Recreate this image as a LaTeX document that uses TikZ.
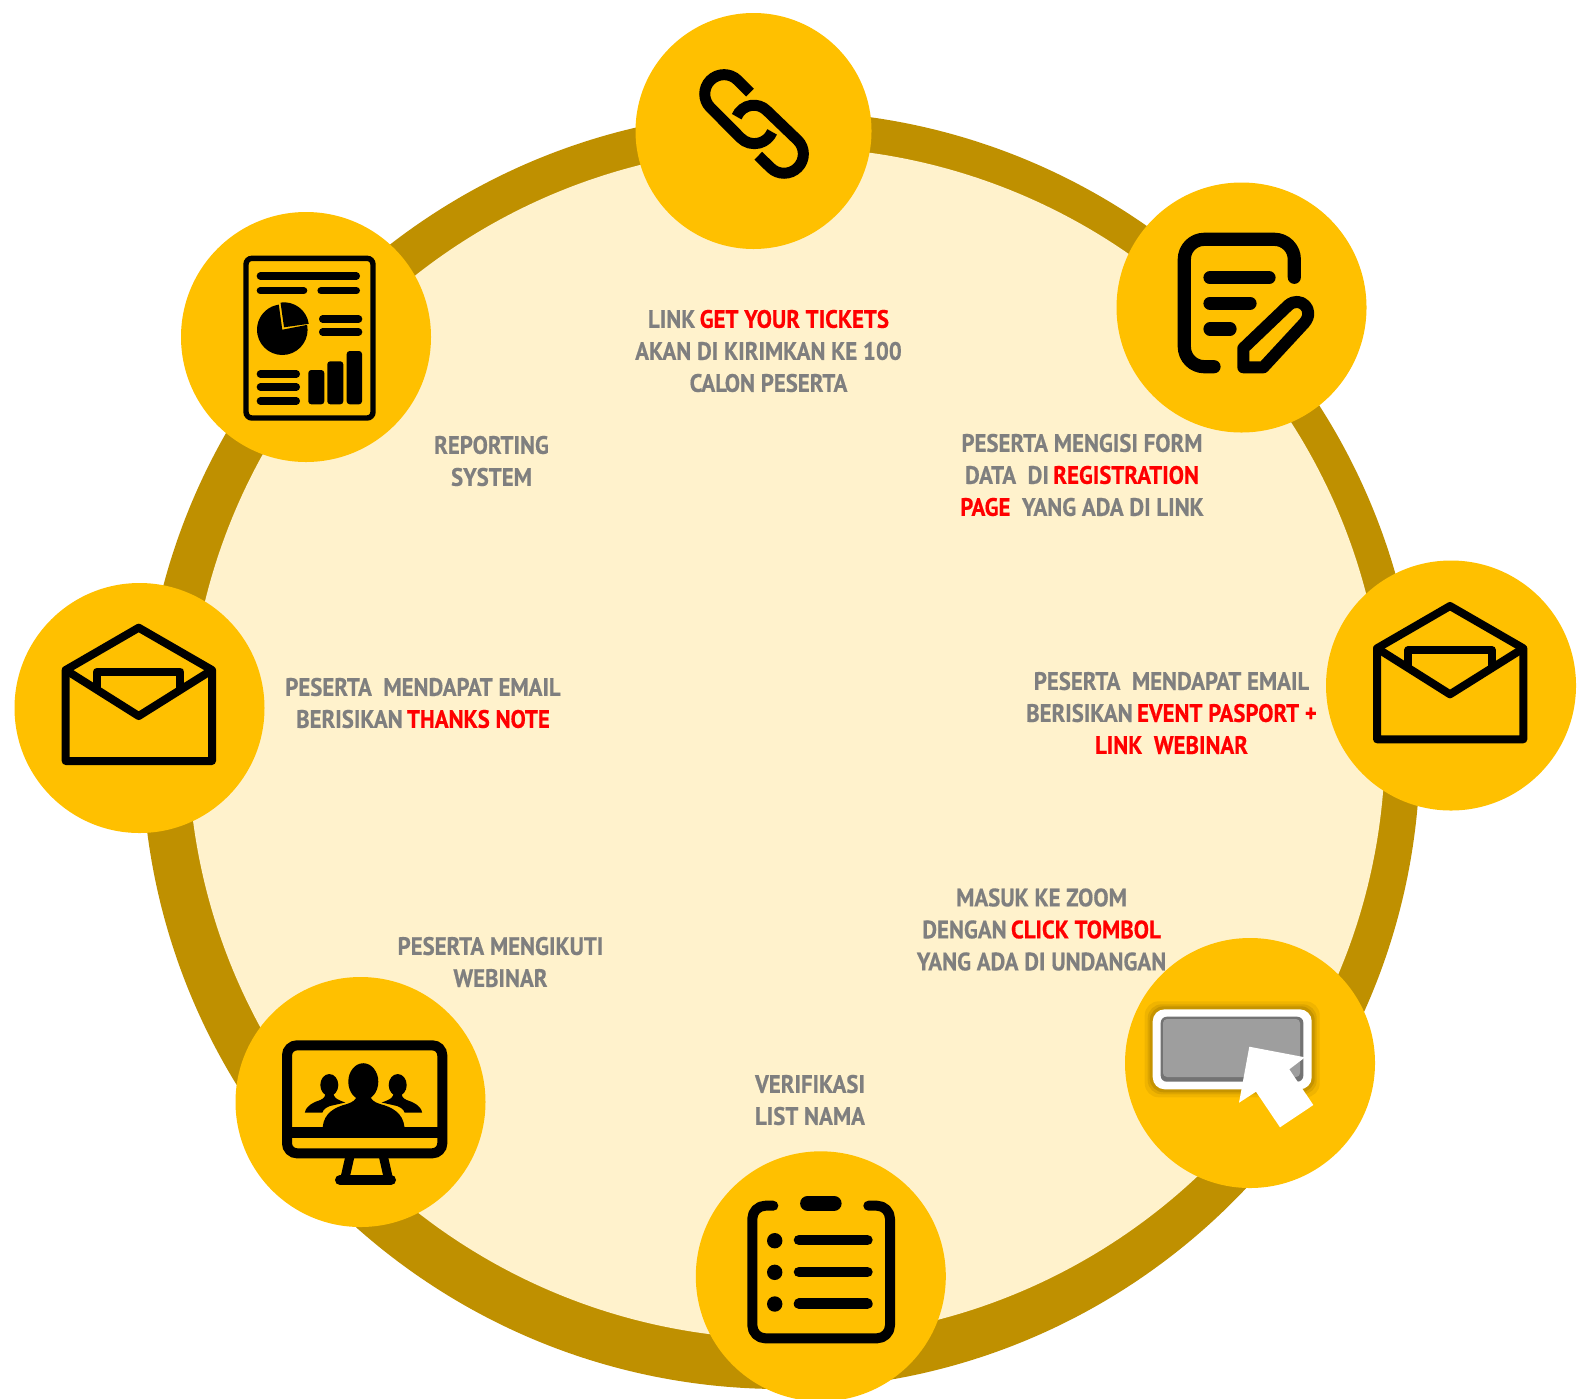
\documentclass[tikz,border=0pt]{standalone}
\usepackage{fontspec}
\setmainfont[FakeStretch=0.905,BoldFeatures={FakeBold=0.5}]{PT Sans}
\definecolor{hubc}{HTML}{FFC000}
\definecolor{ringc}{HTML}{BF9000}
\definecolor{creamc}{HTML}{FFF2CC}
\definecolor{greyt}{HTML}{7F7F7F}
\definecolor{redt}{HTML}{FF0000}
\newcommand{\rd}[1]{\textcolor{redt}{#1}}
\newcommand{\gs}{\hspace{2.2pt}}
\tikzset{
  hub/.style={circle,fill=hubc,draw=none,inner sep=0pt,minimum size=125pt},
  lab/.style={align=center,text=greyt,font=\fontsize{12.6}{16}\selectfont\bfseries,inner sep=0pt},
  ico/.style={draw=black,line width=#1,line cap=round,line join=round},
  envpic/.pic={
    \draw[draw=black,line width=4pt,line join=round] (-73,-26.7) -- (0,-69) -- (73.3,-26.7) -- (73.3,64.3) -- (-73,64.3) -- cycle;
    \draw[draw=black,line width=4pt,line join=round] (-73,-26.7) -- (0,19.3) -- (73.3,-26.7);
    \draw[draw=black,line width=4pt,line join=round] (-41.7,-6) -- (-41.7,-25) -- (41.7,-25) -- (41.7,-6);
  }
}
\begin{document}
\begin{tikzpicture}[x=0.5pt,y=-0.5pt]
\useasboundingbox (0,0) rectangle (1593,1398);
% ring and disc
\fill[ringc] (781,750) circle (639);
\fill[creamc] (786.5,743) ellipse (598.5 and 596);
% hubs
\node[hub,minimum size=118pt] (link) at (753.5,131) {};
\node[hub] (form) at (1241.5,307.5) {};
\node[hub] (mailr) at (1451,685.5) {};
\node[hub] (click) at (1250,1063) {};
\node[hub] (clip) at (820.8,1276.3) {};
\node[hub] (mon) at (360.5,1102) {};
\node[hub] (maill) at (139.5,708) {};
\node[hub] (rep) at (306,337) {};
% link icon
\draw[draw=black,line width=5.5pt,line cap=butt] (750,92.7) -- (737.7,80.3) arc (-45:-225:19.3) -- (740.7,138) arc (135:23:19.3);
\draw[draw=black,line width=5.5pt,line cap=butt] (736.7,116.7) arc (202:315:18.4) -- (797.7,140.3) arc (-45:135:19.3) -- (758.3,155.7);
% form icon
\draw[ico=6.6pt,rounded corners=10pt] (1214,366.7) -- (1184.3,366.7) -- (1184.3,239.3) -- (1294.3,239.3) -- (1294.3,277.3);
\draw[ico=6.6pt] (1210,277.7) -- (1269,277.7) (1210,303.3) -- (1250,303.3) (1210,329) -- (1230,329);
\draw[ico=6pt] (1243.3,367.3) -- (1243.3,348.3) -- (1288.3,305.3) .. controls (1300,295) and (1316,310) .. (1304,323.3) -- (1263.3,367.3) -- cycle;
% envelopes
\pic at (1450,675) {envpic};
\pic at (138.7,696.7) {envpic};
% click icon
\foreach \e/\o in {8/0.06,5/0.08,3/0.1}{
  \fill[black,opacity=\o,rounded corners=7pt] (1152.7-\e,1009.3-\e) rectangle (1311.7+\e,1089.3+\e);
}
\fill[white,rounded corners=6pt] (1152.7,1009.3) rectangle (1311.7,1089.3);
\fill[black!55,rounded corners=3pt] (1160.7,1016.7) rectangle (1303.3,1081.7);
\fill[black!38,rounded corners=2pt] (1163,1019) rectangle (1300,1077);
\fill[white] (1249.3,1046.7) -- (1305,1057.3) -- (1289.3,1069.3) -- (1313.3,1105) -- (1280,1127.3) -- (1256,1091.7) -- (1239,1102.7) -- cycle;
% clipboard icon
\draw[ico=5pt,rounded corners=6.5pt] (773.3,1205.7) -- (752.3,1205.7) -- (752.3,1338.3) -- (890,1338.3) -- (890,1205.7) -- (868.3,1205.7);
\draw[ico=7.6pt] (807.7,1203.3) -- (834,1203.3);
\foreach \y in {1240.7,1272.3,1304}{ \fill[black] (774.7,\y) circle (7.7); }
\draw[ico=5.3pt] (799,1240) -- (867.4,1240) (799,1272) -- (867.4,1272) (799,1303.7) -- (867.4,1303.7);
% report icon
\draw[draw=black,line width=2.7pt,rounded corners=3pt] (246,258.3) rectangle (373,418);
\draw[ico=3.6pt] (260.3,276) -- (356.4,276) (260.3,290.7) -- (303.7,290.7) (321,290.7) -- (356.4,290.7)
  (322.6,319) -- (358.7,319) (322.6,332) -- (358.7,332)
  (260.3,374) -- (296.4,374) (260.3,387) -- (296.4,387) (260.3,401) -- (296.4,401);
\fill[black,rounded corners=1.5pt] (308.3,370) rectangle (324.3,404.3);
\fill[black,rounded corners=1.5pt] (327.3,361.3) rectangle (343.3,404.3);
\fill[black,rounded corners=1.5pt] (346.7,351) rectangle (362,404.3);
\fill[black] (282.3,329.7) -- ++(-11:25.3) arc (-11:262:25.3) -- cycle;
\fill[black] (284,327.3) -- ++(-98:25) arc (-98:-8:25) -- cycle;
% monitor icon
\draw[draw=black,line width=5pt,rounded corners=5pt] (287,1045.3) rectangle (442.3,1153.3);
\fill[black] (287,1126.7) rectangle (442.3,1138.3);
\draw[draw=black,line width=4.5pt] (350,1156) -- (345,1178) (383.3,1156) -- (388.3,1178);
\draw[ico=5pt] (340,1180) -- (391,1180);
\fill[black] (363.3,1081.7) ellipse (15 and 18.5);
\fill[black] (322.7,1127) .. controls (324,1113) and (335,1107) .. (347,1104) .. controls (353,1102) and (356,1100) .. (358,1094) -- (369,1094) .. controls (371,1100) and (374,1102) .. (380,1104) .. controls (392,1107) and (403,1113) .. (404.5,1127) -- cycle;
\foreach \s/\c in {1/329.3,-1/397.7}{
  \fill[black] (\c,1085) ellipse (9 and 11);
  \fill[black] (\c-\s*24.5,1112.7) .. controls (\c-\s*23,1105) and (\c-\s*15,1102) .. (\c-\s*9,1100) .. controls (\c-\s*5,1098) and (\c-\s*4,1097) .. (\c-\s*4,1092) -- (\c+\s*4,1092) .. controls (\c+\s*4,1097) and (\c+\s*6,1099) .. (\c+\s*16,1102.5) -- (\c+\s*5,1105) .. controls (\c-\s*2,1106) and (\c-\s*6,1109) .. (\c-\s*7,1112.7) -- cycle;
}
% labels
\node[lab] (t1) at (768.5,351) {LINK\gs\rd{GET YOUR TICKETS}\\AKAN DI KIRIMKAN KE 100\\CALON PESERTA};
\node[lab] (t2) at (1082,475) {PESERTA MENGISI FORM\\DATA\ \ DI\gs\rd{REGISTRATION}\\\rd{PAGE}\ \ YANG ADA DI LINK};
\node[lab] (t3) at (1171.5,713) {PESERTA\ \ MENDAPAT EMAIL\\BERISIKAN\gs\rd{EVENT PASPORT +}\\\rd{LINK\ \ WEBINAR}};
\node[lab] (t4) at (1041.5,929.5) {MASUK KE ZOOM\\DENGAN\gs\rd{CLICK TOMBOL}\\YANG ADA DI UNDANGAN};
\node[lab] (t5) at (810,1100) {VERIFIKASI\\LIST NAMA};
\node[lab] (t6) at (500.5,962) {PESERTA MENGIKUTI\\WEBINAR};
\node[lab] (t7) at (423,703) {PESERTA\ \ MENDAPAT EMAIL\\BERISIKAN\gs\rd{THANKS NOTE}};
\node[lab] (t8) at (491.5,461) {REPORTING\\SYSTEM};
\end{tikzpicture}
\end{document}
